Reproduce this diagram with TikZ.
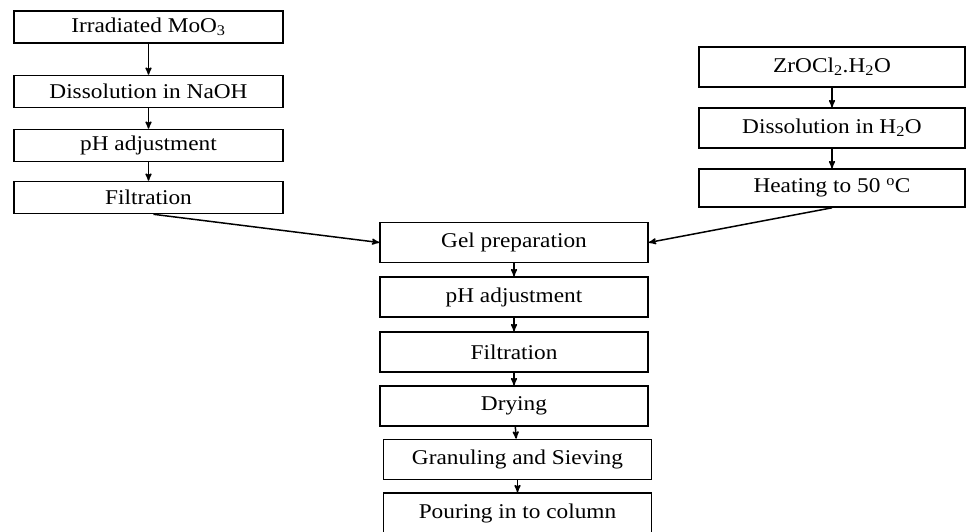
\documentclass[tikz,border=0pt]{standalone}
\usepackage{fontspec}
\setmainfont[FakeStretch=1.11]{Liberation Serif}
\usetikzlibrary{arrows}
\tikzset{
    box/.style =    {rectangle,
                    fill=white,
                    draw=black,
                    text=black,
                    line width=1.6pt,
                    inner sep=0pt,
                    minimum width=269pt,
                    minimum height=32pt},
    tall/.style =   {box,
                    minimum width=266pt,
                    minimum height=40pt},
    mid/.style =    {box,
                    minimum width=268pt,
                    minimum height=40pt},
    -,
    >=stealth',
    font=\fontsize{21}{23}\selectfont}

\begin{document}
\begin{tikzpicture}[x=1pt,y=1pt,node distance=54pt]
                \useasboundingbox (0,0) rectangle (966,-531);
                % left column
                \node[box]          (MO) at (148.5,-27)                     {Irradiated MoO\textsubscript{3}};
                \node[box]          (NA) [below of=MO,node distance=64.5pt] {Dissolution in NaOH};
                \node[box]          (PA) [below of=NA]                      {pH adjustment};
                \node[box]          (FA) [below of=PA,node distance=52pt]   {Filtration};
                % right column
                \node[tall]         (ZR) at (832,-67)                       {ZrOCl\textsubscript{2}.H\textsubscript{2}O};
                \node[tall]         (DW) [below of=ZR,node distance=61pt]   {Dissolution in H\textsubscript{2}O};
                \node[tall,minimum height=38pt] (HT) [below of=DW,node distance=60pt] {Heating to 50 \textsuperscript{o}C};
                % middle column
                \node[mid]          (GL) at (514,-242.5)                    {Gel preparation};
                \node[mid]          (PB) [below of=GL,node distance=54.5pt] {pH adjustment};
                \node[mid]          (FB) [below of=PB,node distance=55pt]   {Filtration};
                \node[mid]          (DR) [below of=FB]                      {Drying};
                \node[mid,xshift=3.5pt] (GS) [below of=DR,node distance=53.5pt] {Granuling and Sieving};
                \node[mid]          (PC) [below of=GS,node distance=53.5pt] {Pouring in to column};

                \path [line width=1.5pt,->]  (MO) edge []             node [] {} (NA)
                                        (NA) edge []             node [] {} (PA)
                                        (PA) edge []             node [] {} (FA)
                                        (ZR) edge []             node [] {} (DW)
                                        (DW) edge []             node [] {} (HT)
                                        ([xshift=5pt]FA.south) edge []       node [] {} (GL.west)
                                        (HT.south) edge []       node [] {} (GL.east)
                                        (GL) edge []             node [] {} (PB)
                                        (PB) edge []             node [] {} (FB)
                                        (FB) edge []             node [] {} (DR)
                                        (DR) edge []             node [] {} (GS)
                                        (GS) edge []             node [] {} (PC);
        \end{tikzpicture}
\end{document}
